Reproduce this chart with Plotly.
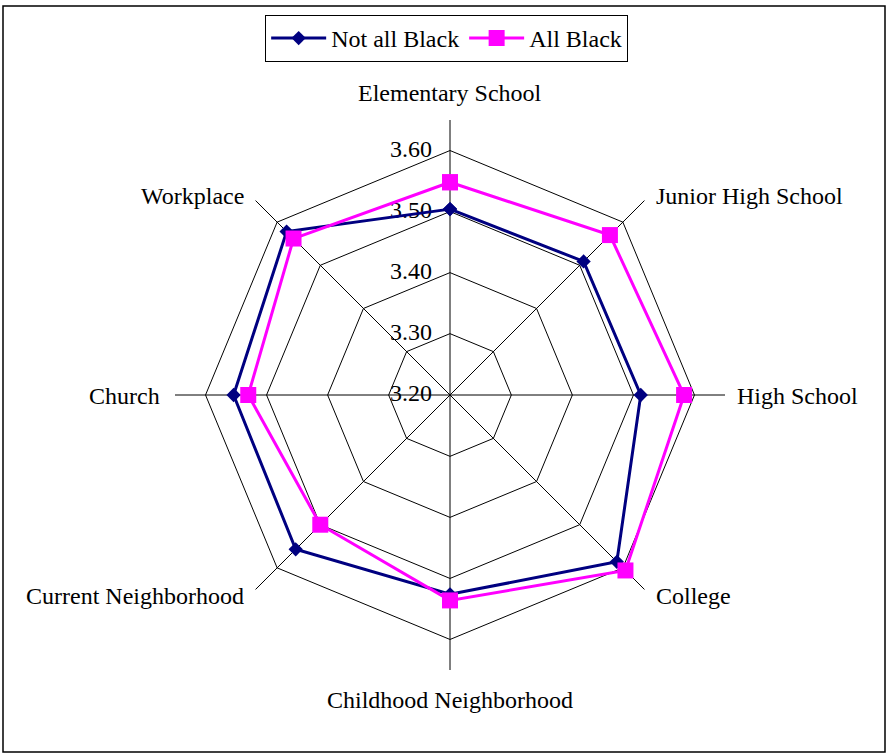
import math
import plotly.graph_objects as go

categories = ["Elementary School", "Junior High School", "High School", "College",
              "Childhood Neighborhood", "Current Neighborhood", "Church", "Workplace"]
not_all_black = [3.504, 3.509, 3.512, 3.586, 3.526, 3.557, 3.554, 3.578]
all_black = [3.548, 3.570, 3.583, 3.606, 3.536, 3.500, 3.530, 3.562]
radial_ticks = [3.20, 3.30, 3.40, 3.50, 3.60]

W, H = 888, 755
cx, cy, R = 450, 395, 275
FONT = "Liberation Serif, Times New Roman, serif"

fig = go.Figure()
# radial value labels along the first category's spoke
fig.add_trace(go.Scatterpolar(
    r=radial_ticks, theta=[categories[0]] * len(radial_ticks),
    mode="text", showlegend=False, hoverinfo="skip", cliponaxis=False,
    text=[f"{v:.2f}<span style='color:rgba(0,0,0,0)'>0.</span>" for v in radial_ticks],
    textposition="middle left",
    textfont=dict(family=FONT, size=24, color="black"),
))
fig.add_trace(go.Scatterpolar(
    r=not_all_black + not_all_black[:1], theta=categories + categories[:1],
    mode="lines+markers", name="Not all Black",
    line=dict(color="#000080", width=3),
    marker=dict(symbol="diamond", size=11, color="#000080"),
))
fig.add_trace(go.Scatterpolar(
    r=all_black + all_black[:1], theta=categories + categories[:1],
    mode="lines+markers", name="All Black",
    line=dict(color="#FF00FF", width=3),
    marker=dict(symbol="square", size=16, color="#FF00FF"),
))

# category labels placed around the chart (angular positions follow the category order)
annotations = []
n = len(categories)
for i, cat in enumerate(categories):
    ang = math.radians(90 - 360 * i / n)
    dx, dy = math.cos(ang), math.sin(ang)
    if abs(dx) < 1e-6:
        xa = "center"
        ya = "bottom" if dy > 0 else "top"
        dist = 287 if dy > 0 else 290
        px, py = cx, cy - dist * dy
    elif abs(dy) < 1e-6:
        ya = "middle"
        xa = "left" if dx > 0 else "right"
        px, py = cx + 285 * dx - (3 if dx < 0 else 0), cy + 1
    else:
        xa = "left" if dx > 0 else "right"
        ya = "middle"
        px = cx + 288.5 * dx
        py = cy - 283 * dy + 1
    annotations.append(dict(
        text=cat, x=px / W, y=1 - py / H, xref="paper", yref="paper",
        xanchor=xa, yanchor=ya, showarrow=False,
        font=dict(family=FONT, size=24, color="black"),
    ))

fig.update_layout(
    width=W, height=H,
    margin=dict(l=0, r=0, t=0, b=0),
    paper_bgcolor="white", plot_bgcolor="white",
    font=dict(family=FONT, size=24, color="black"),
    polar=dict(
        domain=dict(x=[(cx - R) / W, (cx + R) / W], y=[1 - (cy + R) / H, 1 - (cy - R) / H]),
        bgcolor="white",
        gridshape="linear",
        radialaxis=dict(
            range=[3.1995, 3.65], tickvals=radial_ticks, showticklabels=False,
            angle=90, showline=False, ticks="", gridcolor="black", gridwidth=1,
        ),
        angularaxis=dict(
            type="category", categoryarray=categories, direction="clockwise", rotation=90,
            showline=False, gridcolor="black", gridwidth=1,
            ticks="", showticklabels=False,
        ),
    ),
    legend=dict(
        orientation="h", x=0.503, xanchor="center", y=1 - 15 / H, yanchor="top",
        bordercolor="black", borderwidth=1, bgcolor="white", itemwidth=55,
        font=dict(family=FONT, size=24, color="black"),
    ),
    annotations=annotations,
    shapes=[dict(type="rect", xref="paper", yref="paper",
                 x0=3 / W, x1=885 / W, y0=1 - 752 / H, y1=1 - 6 / H,
                 line=dict(color="black", width=1.5))],
)

fig.write_html("out.html")
